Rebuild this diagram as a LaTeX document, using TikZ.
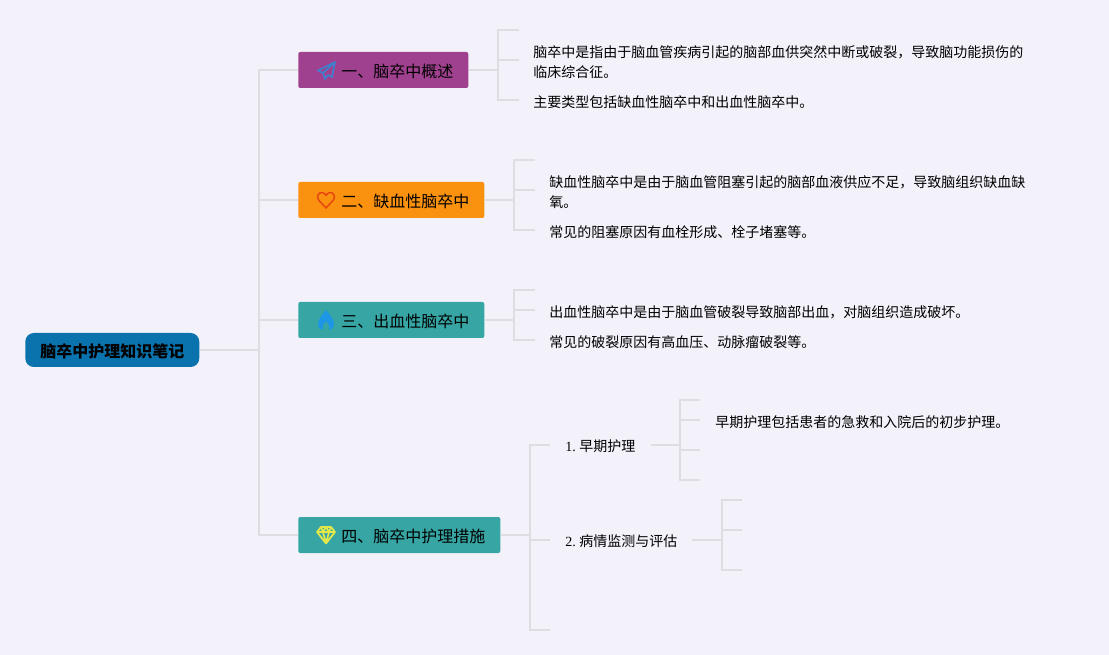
\documentclass[tikz,border=0pt]{standalone}
\usepackage{fontspec}
\setmainfont{Noto Sans CJK SC}
\newfontfamily\numfont{Liberation Serif}
\usepackage{xcolor}
\usetikzlibrary{positioning}
\definecolor{pagebg}{HTML}{F3F2FA}
\definecolor{linkgray}{HTML}{DEDEE2}
\definecolor{rootblue}{HTML}{0A73AE}
\definecolor{overpurple}{HTML}{A04190}
\definecolor{ischorange}{HTML}{FA920F}
\definecolor{careteal}{HTML}{36A5A3}
\definecolor{planeblue}{HTML}{3F7FCB}
\definecolor{heartred}{HTML}{E8440F}
\definecolor{flameblue}{HTML}{1E96E6}
\definecolor{gemyellow}{HTML}{E3E84A}
\tikzset{
  link/.style={draw=linkgray, line width=1.5pt},
  rootbox/.style={rectangle, rounded corners=6.5pt, fill=rootblue, anchor=west, inner xsep=11.25pt,
    inner ysep=0pt, minimum height=25.5pt, text height=11pt, text depth=0pt,
    font=\fontsize{12}{15}\selectfont\bfseries},
  branchbox/.style={rectangle, rounded corners=1.5pt, anchor=west, inner xsep=11.25pt,
    inner ysep=0pt, minimum height=27pt, text height=11pt, text depth=0pt,
    font=\fontsize{12}{15}\selectfont},
  subitem/.style={anchor=west, inner sep=0pt, font=\fontsize{10.5}{15}\selectfont},
  detail/.style={anchor=west, inner sep=0pt, align=left, yshift=-0.75pt, font=\fontsize{10.5}{15}\selectfont},
  planeicon/.pic={
    \draw[draw=planeblue, line width=1.3pt, line join=round]
      (9,-8) -- (-8,0.5) -- (-3,3) -- (-1,9) -- (2,5) -- (6,7) -- cycle
      (9,-8) -- (-3,3) -- (-1,9);
  },
  hearticon/.pic={
    \draw[draw=heartred, line width=1.1pt, line join=round]
      (0,8) -- (-7,0.5) .. controls (-10.5,-3.5) and (-7,-8) .. (-4,-7.5)
      .. controls (-2,-7.3) and (-0.8,-6) .. (0,-4.5)
      .. controls (0.8,-6) and (2,-7.3) .. (4,-7.5)
      .. controls (7,-8) and (10.5,-3.5) .. (7,0.5) -- cycle;
  },
  flameicon/.pic={
    \fill[fill=flameblue]
      (0,-10) .. controls (3,-6) and (8,-1) .. (8,4) .. controls (8,8) and (5,10) .. (3,10)
      .. controls (4,6) and (2,3) .. (0,1) .. controls (-2,3) and (-4,6) .. (-3,10)
      .. controls (-5,10) and (-8,8) .. (-8,4) .. controls (-8,-1) and (-3,-6) .. (0,-10) -- cycle;
  },
  gemicon/.pic={
    \draw[draw=gemyellow, line width=1.3pt, line join=round]
      (-5,-8) -- (5,-8) -- (9,-3) -- (0,8.5) -- (-9,-3) -- cycle
      (-9,-3) -- (9,-3)
      (-5,-8) -- (-3,-3) -- (0,8.5) -- (3,-3) -- (5,-8)
      (-3,-3) -- (0,-8) -- (3,-3);
  },
}
\begin{document}
\begin{tikzpicture}[x=0.75pt, y=-0.75pt]
  \fill[pagebg] (0,0) rectangle (1109,655);
  \useasboundingbox (0,0) rectangle (1109,655);

  \node[rootbox] (root) at (25,350) {脑卒中护理知识笔记};
  \node[branchbox, fill=overpurple] (over) at (298,70) {\kern21pt 一、脑卒中概述};
  \node[branchbox, fill=ischorange] (isch) at (298,200) {\kern21pt 二、缺血性脑卒中};
  \node[branchbox, fill=careteal] (hem) at (298,320) {\kern21pt 三、出血性脑卒中};
  \node[branchbox, fill=careteal] (care) at (298,535) {\kern21pt 四、脑卒中护理措施};
  \pic at (326,70) {planeicon};
  \pic at (326,200) {hearticon};
  \pic at (326,320) {flameicon};
  \pic at (326,535) {gemicon};

  \node[subitem] (early) at (565,446) {{\numfont 1. }\kern-0.75pt 早期护理};
  \node[subitem] (monitor) at (565,541) {{\numfont 2. }\kern-0.75pt 病情监测与评估};

  \node[detail] (overa) at (533,61) {脑卒中是指由于脑血管疾病引起的脑部血供突然中断或破裂，导致脑功能损伤的\\临床综合征。};
  \node[detail] (overb) at (533,101) {主要类型包括缺血性脑卒中和出血性脑卒中。};
  \node[detail] (ischa) at (549,191) {缺血性脑卒中是由于脑血管阻塞引起的脑部血液供应不足，导致脑组织缺血缺\\氧。};
  \node[detail] (ischb) at (549,231) {常见的阻塞原因有血栓形成、栓子堵塞等。};
  \node[detail] (hema) at (549,311) {出血性脑卒中是由于脑血管破裂导致脑部出血，对脑组织造成破坏。};
  \node[detail] (hemb) at (549,341) {常见的破裂原因有高血压、动脉瘤破裂等。};
  \node[detail] (earlya) at (715,421) {早期护理包括患者的急救和入院后的初步护理。};

  % trunk from the root
  \coordinate (trunk) at (259,350);
  \draw[link] (root.east) -- (trunk);
  \draw[link, line cap=rect] (trunk |- over.west) -- (trunk |- care.west);
  \foreach \n in {over,isch,hem,care}
    \draw[link] (trunk |- \n.west) -- (\n.west);

  % forks on the right of each box
  \coordinate (overfork) at (498,70);
  \draw[link] (over.east) -- (overfork);
  \draw[link, line cap=rect] (498,30) -- (498,100);
  \foreach \y in {30,60,100}
    \draw[link] (498,\y) -- ++(21,0);

  \coordinate (ischfork) at (514,200);
  \draw[link] (isch.east) -- (ischfork);
  \draw[link, line cap=rect] (514,160) -- (514,230);
  \foreach \y in {160,190,230}
    \draw[link] (514,\y) -- ++(21,0);

  \coordinate (hemfork) at (514,320);
  \draw[link] (hem.east) -- (hemfork);
  \draw[link, line cap=rect] (514,290) -- (514,340);
  \foreach \y in {290,310,340}
    \draw[link] (514,\y) -- ++(21,0);

  \coordinate (carefork) at (530,535);
  \draw[link] (care.east) -- (carefork);
  \draw[link, line cap=rect] (530,445) -- (530,630);
  \foreach \y in {445,540,630}
    \draw[link] (530,\y) -- ++(20,0);

  \coordinate (earlyfork) at (680,445);
  \draw[link] (651,445) -- (earlyfork);
  \draw[link, line cap=rect] (680,400) -- (680,480);
  \foreach \y in {400,420,450,480}
    \draw[link] (680,\y) -- ++(20,0);

  \coordinate (monitorfork) at (722,540);
  \draw[link] (692,540) -- (monitorfork);
  \draw[link, line cap=rect] (722,500) -- (722,570);
  \foreach \y in {500,530,570}
    \draw[link] (722,\y) -- ++(20,0);
\end{tikzpicture}
\end{document}
